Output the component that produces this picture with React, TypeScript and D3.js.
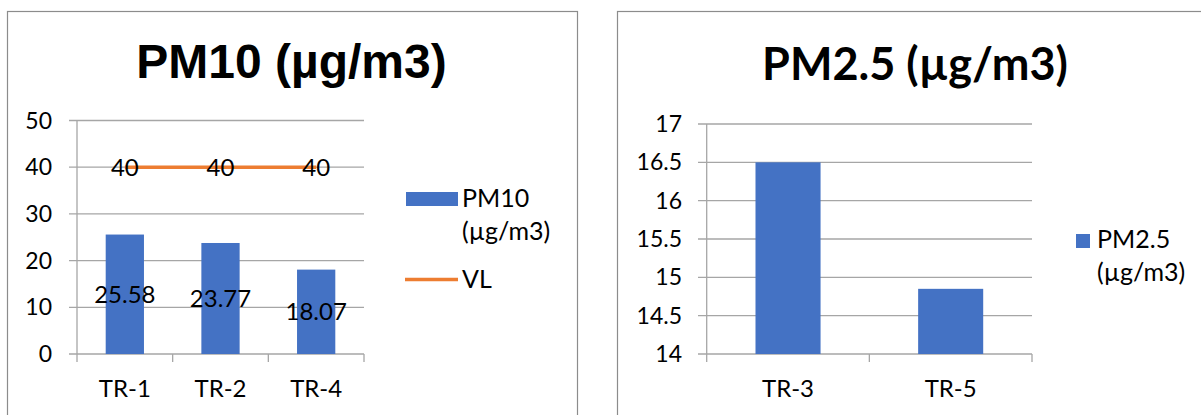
import React from "react";
import * as d3 from "d3";

// PM10 chart data
const pm10Categories = ["TR-1", "TR-2", "TR-4"];
const pm10Values = [25.58, 23.77, 18.07];
const pm10Limit = [40, 40, 40];
const pm10Ticks = [0, 10, 20, 30, 40, 50];

// PM2.5 chart data
const pm25Categories = ["TR-3", "TR-5"];
const pm25Values = [16.5, 14.85];
const pm25Ticks = [14, 14.5, 15, 15.5, 16, 16.5, 17];

const BAR = "#4472C4";
const LINE = "#ED7D31";
const GRID = "#A6A6A6";
const FRAME = "#8C8C8C";
const FONT = "Lato, 'Open Sans', sans-serif";
const ARIAL = "Liberation Sans, Arial, Helvetica, sans-serif";

function Pm10Chart() {
  const x = d3.scaleBand<string>().domain(pm10Categories).range([77, 364]).padding(0);
  const y = d3.scaleLinear().domain([0, 50]).range([354, 120.5]);
  const bw = x.bandwidth() * 0.4;
  const cx = (c: string) => (x(c) as number) + x.bandwidth() / 2;
  const line = d3
    .line<number>()
    .x((_, i) => cx(pm10Categories[i]))
    .y((d) => y(d));
  return (
    <g>
      <rect x={7.5} y={11.5} width={570} height={420} fill="#fff" stroke={FRAME} strokeWidth={1.2} />
      <text x={291.5} y={78} textAnchor="middle" style={{ fontFamily: ARIAL, fontWeight: 700, fontSize: 48 }}>
        PM10 (µg/m3)
      </text>
      {pm10Ticks.map((t) => (
        <g key={t}>
          <line x1={69} x2={364} y1={y(t)} y2={y(t)} stroke={GRID} strokeWidth={1.3} />
          <text x={52} y={y(t) + 8} textAnchor="end" fontFamily={FONT} fontSize={23} fill="#000">
            {t}
          </text>
        </g>
      ))}
      <line x1={77} x2={77} y1={120.5} y2={362} stroke={GRID} strokeWidth={1.3} />
      {pm10Categories.map((c) => (
        <line key={c} x1={(x(c) as number) + x.bandwidth()} x2={(x(c) as number) + x.bandwidth()} y1={354} y2={362} stroke={GRID} strokeWidth={1.3} />
      ))}
      {pm10Categories.map((c, i) => (
        <rect key={c} x={cx(c) - bw / 2} y={y(pm10Values[i])} width={bw} height={y(0) - y(pm10Values[i])} fill={BAR} />
      ))}
      <path d={line(pm10Limit) as string} fill="none" stroke={LINE} strokeWidth={3.5} />
      {pm10Categories.map((c, i) => (
        <text key={"v" + c} x={cx(c)} y={y(pm10Values[i] / 2) + 8.5} textAnchor="middle" fontFamily={FONT} fontSize={24}>
          {pm10Values[i].toFixed(2)}
        </text>
      ))}
      {pm10Categories.map((c, i) => (
        <text key={"l" + c} x={cx(c)} y={y(pm10Limit[i]) + 8.5} textAnchor="middle" fontFamily={FONT} fontSize={24}>
          {pm10Limit[i]}
        </text>
      ))}
      {pm10Categories.map((c) => (
        <text key={"c" + c} x={cx(c)} y={397} textAnchor="middle" fontFamily={FONT} fontSize={24}>
          {c}
        </text>
      ))}
      <rect x={406} y={192} width={52} height={14} fill={BAR} />
      <text x={462} y={207} fontFamily={FONT} fontSize={25}>PM10</text>
      <text x={462} y={240} fontFamily={FONT} fontSize={25}>(µg/m3)</text>
      <line x1={405} x2={458} y1={279.5} y2={279.5} stroke={LINE} strokeWidth={3.5} />
      <text x={462} y={288} fontFamily={FONT} fontSize={25}>VL</text>
    </g>
  );
}

function Pm25Chart() {
  const x = d3.scaleBand<string>().domain(pm25Categories).range([706.7, 1032]).padding(0);
  const y = d3.scaleLinear().domain([14, 17]).range([354, 124]);
  const bw = x.bandwidth() * 0.4;
  const cx = (c: string) => (x(c) as number) + x.bandwidth() / 2;
  return (
    <g>
      <rect x={617.5} y={11.5} width={640} height={420} fill="#fff" stroke={FRAME} strokeWidth={1.2} />
      <text x={915} y={80} textAnchor="middle" fontFamily={FONT} fontWeight="bold" fontSize={45}>
        PM2.5 (µg/m3)
      </text>
      {pm25Ticks.map((t) => (
        <g key={t}>
          <line x1={698} x2={1032} y1={y(t)} y2={y(t)} stroke={GRID} strokeWidth={1.3} />
          <text x={682} y={y(t) + 8} textAnchor="end" fontFamily={FONT} fontSize={23}>
            {t}
          </text>
        </g>
      ))}
      <line x1={706.7} x2={706.7} y1={124} y2={362} stroke={GRID} strokeWidth={1.3} />
      {pm25Categories.map((c) => (
        <line key={c} x1={(x(c) as number) + x.bandwidth()} x2={(x(c) as number) + x.bandwidth()} y1={354} y2={362} stroke={GRID} strokeWidth={1.3} />
      ))}
      {pm25Categories.map((c, i) => (
        <rect key={c} x={cx(c) - bw / 2} y={y(pm25Values[i])} width={bw} height={y(14) - y(pm25Values[i])} fill={BAR} />
      ))}
      {pm25Categories.map((c) => (
        <text key={"c" + c} x={cx(c)} y={397} textAnchor="middle" fontFamily={FONT} fontSize={24}>
          {c}
        </text>
      ))}
      <rect x={1076} y={234} width={14} height={14} fill={BAR} />
      <text x={1097} y={248} fontFamily={FONT} fontSize={25}>PM2.5</text>
      <text x={1097} y={281} fontFamily={FONT} fontSize={25}>(µg/m3)</text>
    </g>
  );
}

export default function App() {
  return (
    <svg
      width={1201}
      height={415}
      viewBox="0 0 1201 415"
      style={{ position: "absolute", left: 0, top: 0, background: "#fff" }}
    >
      <rect width={1201} height={415} fill="#fff" />
      <Pm10Chart />
      <Pm25Chart />
    </svg>
  );
}
